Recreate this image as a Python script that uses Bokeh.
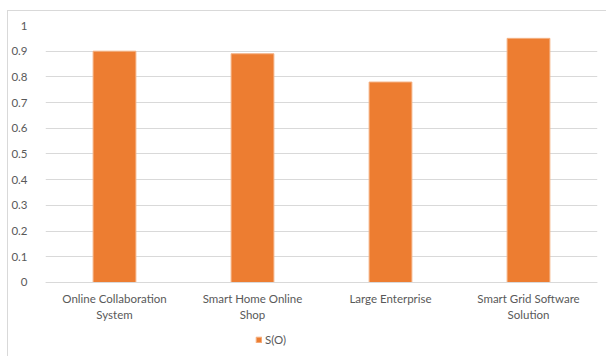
from bokeh.plotting import figure
from bokeh.models import FactorRange, Legend, LegendItem, ColumnDataSource, InlineStyleSheet
from bokeh.embed import file_html
from bokeh.resources import INLINE

categories = ["Online Collaboration\nSystem", "Smart Home Online\nShop", "Large Enterprise", "Smart Grid Software\nSolution"]
values = [0.90, 0.89, 0.78, 0.95]
series_name = "S(O)"
y_ticks = [0, 0.1, 0.2, 0.3, 0.4, 0.5, 0.6, 0.7, 0.8, 0.9, 1]

FONT = "Lato"
TXT = "#595959"
ORANGE = "#ED7D31"

# the frame extends below zero so the category labels and legend sit inside it
p = figure(width=606, height=356, x_range=FactorRange(*categories, range_padding=0),
           y_range=(-0.2724, 1), output_backend="svg", toolbar_location=None,
           min_border_left=45, min_border_right=9, min_border_top=25, min_border_bottom=4)
p.stylesheets = [InlineStyleSheet(css=":host::after{content:'';position:absolute;left:7px;top:10px;"
                                      "width:700px;height:500px;border:1px solid #D9D9D9;"
                                      "pointer-events:none;z-index:10;}")]
p.outline_line_color = None
p.background_fill_color = "white"
p.border_fill_color = "white"

src = ColumnDataSource(dict(cat=categories, val=values))
r = p.vbar(x="cat", top="val", width=0.31, source=src, fill_color=ORANGE,
           line_color="#F4B183", line_width=1)

p.xgrid.grid_line_color = None
p.ygrid.grid_line_color = "#D9D9D9"
p.ygrid.grid_line_width = 1
p.yaxis.ticker = y_ticks
p.yaxis.major_label_overrides = {0: "0", 1: "1"}
for ax in (p.xaxis[0], p.yaxis[0]):
    ax.major_tick_line_color = None
    ax.minor_tick_line_color = None
    ax.major_label_text_font = FONT
    ax.major_label_text_font_size = "11.5px"
    ax.major_label_text_color = TXT
p.yaxis.axis_line_color = None
p.yaxis.major_label_standoff = 12
p.xaxis.axis_line_color = "#D9D9D9"
p.xaxis.major_label_standoff = 4
p.xaxis.fixed_location = 0

legend = Legend(items=[LegendItem(label=series_name, renderers=[r])],
                location=(210, 6), orientation="horizontal",
                glyph_width=7, glyph_height=7, label_standoff=3, label_height=12,
                padding=0, margin=0, spacing=0,
                border_line_color=None, background_fill_alpha=0,
                label_text_font=FONT, label_text_font_size="11.5px", label_text_color=TXT)
p.add_layout(legend, "center")

open("out.html", "w").write(file_html(p, INLINE))
